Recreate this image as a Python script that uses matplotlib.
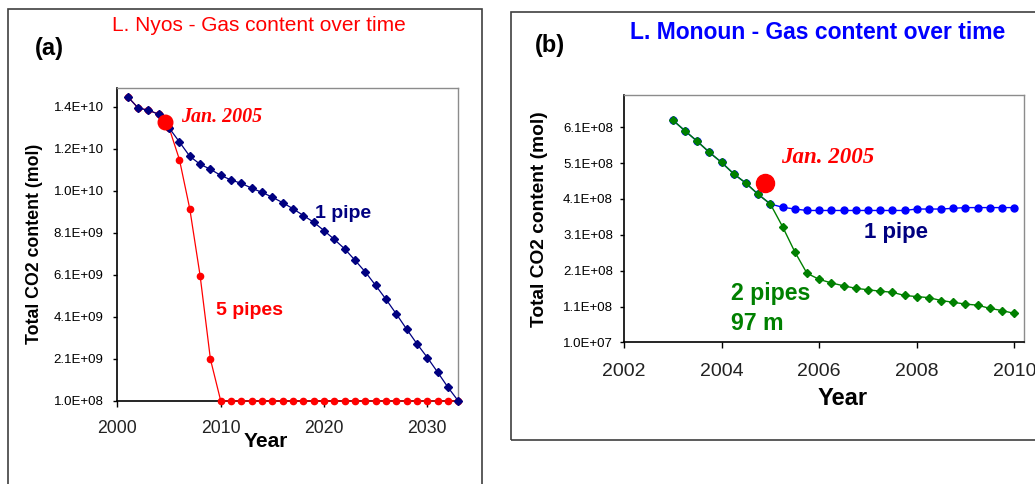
import matplotlib
matplotlib.use("Agg")
import matplotlib.pyplot as plt
from matplotlib.patches import Rectangle

plt.rcParams['font.family'] = ['Liberation Sans', 'DejaVu Sans']

# ---------------- data: panel (a) L. Nyos ----------------
years_a = [2001, 2002, 2003, 2004, 2005, 2006, 2007, 2008, 2009, 2010,
           2011, 2012, 2013, 2014, 2015, 2016, 2017, 2018, 2019, 2020,
           2021, 2022, 2023, 2024, 2025, 2026, 2027, 2028, 2029, 2030,
           2031, 2032, 2033]
one_pipe_a = [1.458e10, 1.405e10, 1.394e10, 1.375e10, 1.31e10, 1.243e10, 1.175e10,
              1.137e10, 1.113e10, 1.084e10, 1.062e10, 1.046e10, 1.023e10, 1.003e10,
              9.80e9, 9.54e9, 9.25e9, 8.93e9, 8.61e9, 8.21e9, 7.79e9, 7.34e9,
              6.80e9, 6.24e9, 5.60e9, 4.94e9, 4.24e9, 3.52e9, 2.82e9, 2.17e9,
              1.47e9, 7.5e8, 1.0e8]
five_pipes_a = [1.458e10, 1.405e10, 1.394e10, 1.375e10, 1.31e10, 1.159e10, 9.25e9,
                6.07e9, 2.09e9, 1.0e8, 1.0e8, 1.0e8, 1.0e8, 1.0e8, 1.0e8, 1.0e8,
                1.0e8, 1.0e8, 1.0e8, 1.0e8, 1.0e8, 1.0e8, 1.0e8, 1.0e8, 1.0e8,
                1.0e8, 1.0e8, 1.0e8, 1.0e8, 1.0e8, 1.0e8, 1.0e8, 1.0e8]
jan2005_a = (2004.65, 1.336e10)
yticks_a = [1.0e8, 2.1e9, 4.1e9, 6.1e9, 8.1e9, 1.01e10, 1.21e10, 1.41e10]
ytick_labels_a = ["1.0E+08", "2.1E+09", "4.1E+09", "6.1E+09", "8.1E+09",
                  "1.0E+10", "1.2E+10", "1.4E+10"]
xticks_a = [2000, 2010, 2020, 2030]

# ---------------- data: panel (b) L. Monoun ----------------
t_b = [2003.0, 2003.25, 2003.5, 2003.75, 2004.0, 2004.25, 2004.5, 2004.75,
       2005.0, 2005.25, 2005.5, 2005.75, 2006.0, 2006.25, 2006.5, 2006.75,
       2007.0, 2007.25, 2007.5, 2007.75, 2008.0, 2008.25, 2008.5, 2008.75,
       2009.0, 2009.25, 2009.5, 2009.75, 2010.0]
one_pipe_b = [6.30e8, 6.00e8, 5.71e8, 5.40e8, 5.12e8, 4.80e8, 4.54e8, 4.23e8, 3.96e8,
              3.87e8, 3.82e8, 3.78e8, 3.78e8, 3.78e8, 3.78e8, 3.78e8, 3.78e8,
              3.78e8, 3.78e8, 3.78e8, 3.82e8, 3.82e8, 3.82e8, 3.84e8, 3.86e8,
              3.86e8, 3.86e8, 3.86e8, 3.86e8]
two_pipes_b = [6.30e8, 6.00e8, 5.71e8, 5.40e8, 5.12e8, 4.80e8, 4.54e8, 4.23e8, 3.96e8,
               3.33e8, 2.63e8, 2.03e8, 1.86e8, 1.76e8, 1.68e8, 1.61e8, 1.57e8,
               1.53e8, 1.50e8, 1.41e8, 1.38e8, 1.35e8, 1.27e8, 1.22e8, 1.17e8,
               1.14e8, 1.05e8, 0.99e8, 0.91e8]
jan2005_b = (2004.9, 4.55e8)
yticks_b = [1.0e7, 1.1e8, 2.1e8, 3.1e8, 4.1e8, 5.1e8, 6.1e8]
ytick_labels_b = ["1.0E+07", "1.1E+08", "2.1E+08", "3.1E+08", "4.1E+08",
                  "5.1E+08", "6.1E+08"]
xticks_b = [2002, 2004, 2006, 2008, 2010]

NAVY = "#000080"
RED = "#ff0000"
BLUE = "#0000ff"
GREEN = "#008000"

fig = plt.figure(figsize=(10.35, 4.84), dpi=100)

# panel frames
fig.add_artist(Rectangle((0.0075, -0.05), 0.458, 1.0314, transform=fig.transFigure,
                         fill=False, ec="#404040", lw=1.2))
fig.add_artist(Rectangle((0.4935, 0.0900), 0.55, 0.8846, transform=fig.transFigure,
                         fill=False, ec="#404040", lw=1.2))


def style_axes(ax):
    for s in ("left", "bottom"):
        ax.spines[s].set_color("black")
        ax.spines[s].set_linewidth(1.2)
    for s in ("top", "right"):
        ax.spines[s].set_color("#8c8c8c")
        ax.spines[s].set_linewidth(1.0)
    ax.minorticks_off()


# ---------------- panel (a) ----------------
ax1 = fig.add_axes([0.1135, 0.1715, 0.3293, 0.6467])
ax1.plot(years_a, five_pipes_a, color=RED, lw=0.9, marker="o", ms=4.5,
         mec=RED, mfc=RED, zorder=3, clip_on=False)
ax1.plot(years_a, one_pipe_a, color=NAVY, lw=0.9, marker="D", ms=3.8,
         mec=NAVY, mfc=NAVY, zorder=4, clip_on=False)
ax1.plot([jan2005_a[0]], [jan2005_a[1]], "o", color=RED, ms=10.5, zorder=5)
ax1.set_xlim(2000, 2033)
ax1.set_ylim(1.0e8, 1.5e10)
ax1.set_xticks(xticks_a)
ax1.set_xticklabels([str(x) for x in xticks_a])
ax1.set_yticks(yticks_a)
ax1.set_yticklabels(ytick_labels_a)
ax1.tick_params(axis="y", direction="out", length=3, width=1, pad=7, labelsize=9.5)
ax1.tick_params(axis="x", direction="out", length=4.5, width=1, pad=9, labelsize=12.7)
style_axes(ax1)
for t in ax1.get_xticklabels():
    t.set_color("#222222")

ax1.text(2006.2, 1.337e10, "Jan. 2005", color=RED, fontsize=14.4, fontweight="bold",
         fontstyle="italic", family=["Liberation Serif", "DejaVu Serif"],
         ha="left", va="baseline")
ax1.text(2019.1, 8.83e9, "1 pipe", color=NAVY, fontsize=14, fontweight="bold",
         ha="left", va="baseline")
ax1.text(2009.5, 4.2e9, "5 pipes", color=RED, fontsize=14, fontweight="bold",
         ha="left", va="baseline")

fig.text(0.2498, 0.948, "L. Nyos - Gas content over time", color=RED, fontsize=15,
         ha="center", va="center")
fig.text(0.0473, 0.8988, "(a)", fontsize=17, fontweight="bold", ha="center", va="center")
fig.text(0.0335, 0.496, "Total CO2 content (mol)", fontsize=12.8, fontweight="bold",
         rotation=90, ha="center", va="center")
fig.text(0.257, 1 - 447 / 484, "Year", fontsize=15, fontweight="bold",
         ha="center", va="baseline")

# ---------------- panel (b) ----------------
ax2 = fig.add_axes([0.6029, 0.2924, 0.3865, 0.5114])
ax2.plot(t_b, one_pipe_b, color=BLUE, lw=1.0, marker="o", ms=5.0,
         mec=BLUE, mfc=BLUE, zorder=3, clip_on=False)
ax2.plot(t_b, two_pipes_b, color=GREEN, lw=1.0, marker="D", ms=3.8,
         mec=GREEN, mfc=GREEN, zorder=4, clip_on=False)
ax2.plot([jan2005_b[0]], [jan2005_b[1]], "o", color=RED, ms=13, zorder=5)
ax2.set_xlim(2002, 2010.2)
ax2.set_ylim(1.0e7, 7.0e8)
ax2.set_xticks(xticks_b)
ax2.set_xticklabels([str(x) for x in xticks_b])
ax2.set_yticks(yticks_b)
ax2.set_yticklabels(ytick_labels_b)
ax2.tick_params(axis="y", direction="out", length=3, width=1, pad=5, labelsize=9.5)
ax2.tick_params(axis="x", direction="out", length=4.5, width=1, pad=10, labelsize=14)
style_axes(ax2)
for t in ax2.get_xticklabels():
    t.set_color("#222222")

ax2.text(2005.22, 5.11e8, "Jan. 2005", color=RED, fontsize=16.6, fontweight="bold",
         fontstyle="italic", family=["Liberation Serif", "DejaVu Serif"],
         ha="left", va="baseline")
ax2.text(2006.91, 3.02e8, "1 pipe", color=NAVY, fontsize=16, fontweight="bold",
         ha="left", va="baseline")
ax2.text(2004.19, 1.286e8, "2 pipes", color=GREEN, fontsize=16.7, fontweight="bold",
         ha="left", va="baseline")
ax2.text(2004.19, 4.5e7, "97 m", color=GREEN, fontsize=16.7, fontweight="bold",
         ha="left", va="baseline")

fig.text(0.790, 0.932, "L. Monoun - Gas content over time", color=BLUE, fontsize=16.5,
         fontweight="bold", ha="center", va="center")
fig.text(0.5314, 0.906, "(b)", fontsize=17, fontweight="bold", ha="center", va="center")
fig.text(0.5217, 0.5475, "Total CO2 content (mol)", fontsize=13.8, fontweight="bold",
         rotation=90, ha="center", va="center")
fig.text(843 / 1035, 1 - 405 / 484, "Year", fontsize=17, fontweight="bold",
         ha="center", va="baseline")

fig.savefig("out.png", dpi=100)
